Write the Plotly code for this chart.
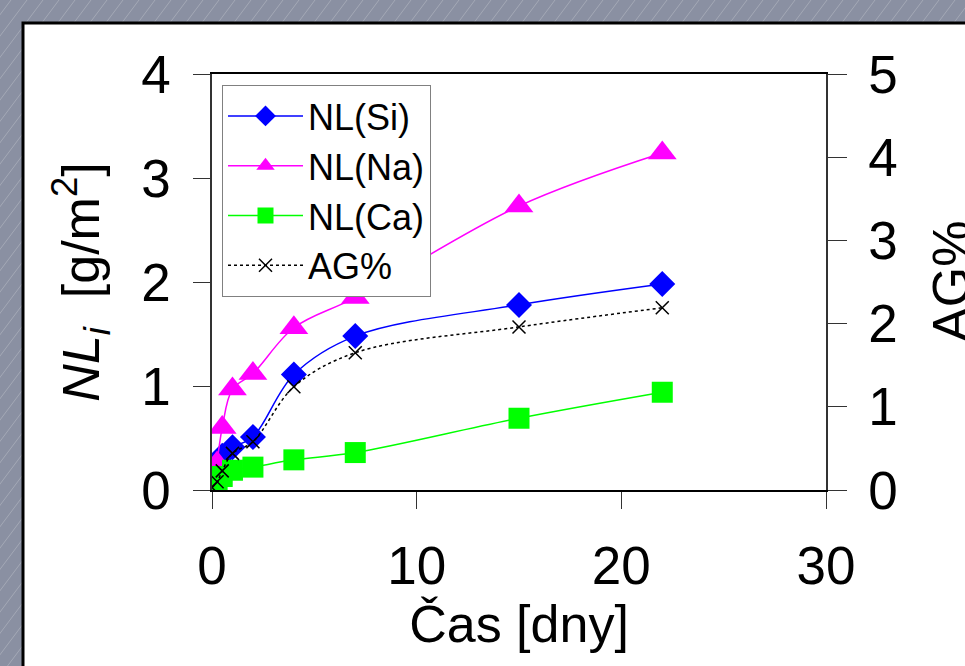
import plotly.graph_objects as go

# ---- data ----
days_si = [0.25, 0.5, 1, 2, 4, 7, 15, 22]
nl_si = [0.26, 0.33, 0.41, 0.51, 1.11, 1.48, 1.78, 1.98]

days_na = [0.25, 0.5, 1, 2, 4, 7, 15, 22]
nl_na = [0.26, 0.60, 0.97, 1.12, 1.56, 1.85, 2.73, 3.24]

days_ca = [0, 0.25, 0.5, 1, 2, 4, 7, 15, 22]
nl_ca = [0.02, 0.08, 0.13, 0.19, 0.22, 0.29, 0.36, 0.69, 0.94]

days_ag = [0, 0.25, 0.5, 1, 2, 4, 7, 15, 22]
ag_pct = [0.03, 0.10, 0.23, 0.44, 0.58, 1.24, 1.65, 1.96, 2.19]

x_ticks = [0, 10, 20, 30]
y_ticks = [0, 1, 2, 3, 4]
y2_ticks = [0, 1, 2, 3, 4, 5]

# ---- layout geometry ----
W, H = 965, 666
L, R, T, B = 212, 139, 74, 176
PW, PH = W - L - R, H - T - B
FONT = "Arial, Liberation Sans, sans-serif"


def xp(px):
    return (px - L) / PW


def yp(py):
    return (H - B - py) / PH


fig = go.Figure()

fig.add_trace(go.Scatter(
    x=days_si, y=nl_si, name="NL(Si)", mode="lines+markers",
    line=dict(color="#0000FF", width=1.5, shape="spline"),
    marker=dict(symbol="diamond", size=20, color="#0000FF"),
))
fig.add_trace(go.Scatter(
    x=days_na, y=nl_na, name="NL(Na)", mode="lines+markers",
    line=dict(color="#FF00FF", width=1.5, shape="spline"),
    marker=dict(symbol="triangle-up", size=25, color="#FF00FF"),
))
fig.add_trace(go.Scatter(
    x=days_ca, y=nl_ca, name="NL(Ca)", mode="lines+markers",
    line=dict(color="#00FF00", width=1.5, shape="spline"),
    marker=dict(symbol="square", size=21, color="#00FF00"),
))
fig.add_trace(go.Scatter(
    x=days_ag, y=ag_pct, name="AG%", mode="lines+markers", yaxis="y2",
    line=dict(color="black", width=1.5, dash="dot", shape="spline"),
    marker=dict(symbol="x-thin", size=13, color="black",
                line=dict(color="black", width=1.5)),
))

# background: grey hatched frame + white panel
shapes = []
step = 16
for k in range(-60, 80):
    x0 = k * step
    shapes.append(dict(
        type="line", xref="paper", yref="paper", layer="below",
        x0=xp(x0), y0=yp(H + 10), x1=xp(x0 + (H + 10) * 0.75), y1=yp(0),
        line=dict(color="rgba(255,255,255,0.22)", width=1),
    ))
shapes.append(dict(
    type="rect", xref="paper", yref="paper", layer="below",
    x0=xp(23), y0=yp(23), x1=xp(W + 40), y1=yp(H + 40),
    fillcolor="white", line=dict(color="black", width=3),
))

fig.update_layout(
    width=W, height=H,
    margin=dict(l=L, r=R, t=T, b=B, autoexpand=False),
    paper_bgcolor="#8a90a2",
    plot_bgcolor="white",
    font=dict(family=FONT, color="black", size=52),
    shapes=shapes,
    showlegend=True,
    legend=dict(
        x=xp(222), y=yp(85), xanchor="left", yanchor="top",
        bgcolor="white", bordercolor="#808080", borderwidth=1,
        font=dict(size=36, family=FONT),
        tracegroupgap=0, itemwidth=75,
    ),
    annotations=[dict(
        text="AG%", xref="paper", yref="paper",
        x=xp(951), y=0.5, xanchor="center", yanchor="middle",
        textangle=-90, showarrow=False, font=dict(size=52, family=FONT),
    )],
    xaxis=dict(
        range=[0, 30], tickvals=x_ticks, ticktext=[str(v) for v in x_ticks],
        showgrid=False, zeroline=False,
        showline=True, linecolor="black", linewidth=1.5, mirror=True,
        ticks="outside", ticklen=17, tickwidth=1.2, tickcolor="#333",
        ticklabelstandoff=12,
        tickfont=dict(size=53),
        title=dict(text="Čas [dny]", font=dict(size=52), standoff=0),
    ),
    yaxis=dict(
        range=[0, 4], tickvals=y_ticks, ticktext=[str(v) for v in y_ticks],
        showgrid=False, zeroline=False,
        showline=True, linecolor="#333", linewidth=1.5,
        ticks="outside", ticklen=17, tickwidth=1.2, tickcolor="#333",
        ticklabelstandoff=12,
        tickfont=dict(size=53),
        title=dict(text="<i>NL</i><sub><i>i</i></sub>  [g/m<sup>2</sup>]",
                   font=dict(size=52), standoff=25),
    ),
    yaxis2=dict(
        range=[0, 5], tickvals=y2_ticks, ticktext=[str(v) for v in y2_ticks],
        overlaying="y", side="right", anchor="x",
        showgrid=False, zeroline=False,
        showline=True, linecolor="#333", linewidth=1.5,
        ticks="outside", ticklen=19, tickwidth=1.2, tickcolor="#333",
        ticklabelstandoff=11,
        tickfont=dict(size=53),
    ),
    yaxis3=dict(
        range=[0, 5], tickvals=y2_ticks,
        overlaying="y", side="right", anchor="x",
        showgrid=False, zeroline=False, showline=False,
        showticklabels=False,
        ticks="inside", ticklen=18, tickwidth=1.2, tickcolor="#333",
    ),
)

fig.write_html(
    "out.html",
    config={"displayModeBar": False},
    post_script="document.body.style.margin='0';document.body.style.overflow='hidden';",
)
